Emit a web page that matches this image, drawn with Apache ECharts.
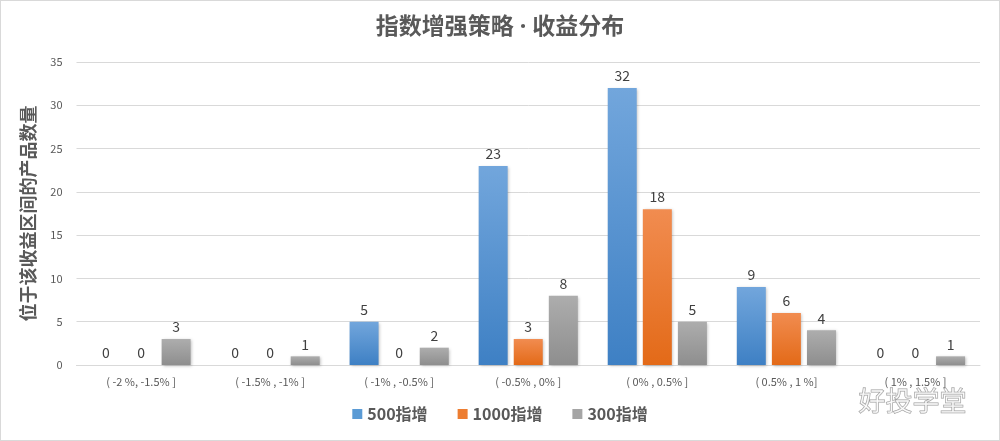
<!DOCTYPE html>
<html><head><meta charset="utf-8">
<script src="https://cdn.jsdelivr.net/npm/echarts@6/dist/echarts.min.js"></script>
<style>html,body{margin:0;padding:0;background:#fff}#c{width:998px;height:439px;border:1px solid #d9d9d9}</style>
</head><body><div id="c"></div>
<script>
const categories = ['( -2 %, -1.5% ]','( -1.5% , -1% ]','( -1% , -0.5% ]','( -0.5% , 0% ]','( 0% , 0.5% ]','( 0.5% , 1 %]','( 1% , 1.5% ]'];
const s500 = [0, 0, 5, 23, 32, 9, 0];
const s1000 = [0, 0, 0, 3, 18, 6, 0];
const s300 = [3, 1, 2, 8, 5, 4, 1];
const seriesNames = ['500指增', '1000指增', '300指增'];

const font = '"Noto Sans CJK SC", "Open Sans", sans-serif';
const titleFont = '"Open Sans", "Noto Sans CJK SC", sans-serif';
function grad(top, bottom){
  return new echarts.graphic.LinearGradient(0,0,0,1,[{offset:0,color:top},{offset:1,color:bottom}]);
}
const colors = [grad('#72a6dc','#3e80c4'), grad('#f18c50','#e36a18'), grad('#adadad','#8e8e8e')];
const legendColors = ['#5b9bd5','#ed7d31','#a5a5a5'];
const label = {show:true, position:'top', distance:5, color:'#404040', fontSize:14, fontFamily:font};
function mk(i, data){
  return {name:seriesNames[i], type:'bar', data:data, barWidth:29, barGap:'21%',
    itemStyle:{color:colors[i], shadowColor:'rgba(0,0,0,0.25)', shadowBlur:3, shadowOffsetX:1, shadowOffsetY:1},
    label:label};
}
const chart = echarts.init(document.getElementById('c'));
chart.setOption({
  animation:false,
  title:{text:'指数增强策略 · 收益分布', left:'center', top:10,
    textStyle:{color:'#595959', fontSize:23, fontWeight:'bold', fontFamily:titleFont}},
  legend:{bottom:13, left:'center', itemWidth:10, itemHeight:10, itemGap:30, icon:'rect',
    textStyle:{color:'#595959', fontSize:16, fontWeight:'bold', fontFamily:font},
    data:seriesNames.map((n,i)=>({name:n, itemStyle:{color:legendColors[i]}}))},
  grid:{left:75.5, right:19, top:61, bottom:75},
  xAxis:{type:'category', data:categories,
    axisLine:{lineStyle:{color:'#d9d9d9'}}, axisTick:{show:false},
    axisLabel:{color:'#595959', fontSize:11, margin:11, fontFamily:font}},
  yAxis:{type:'value', min:0, max:35, interval:5,
    name:'位于该收益区间的产品数量', nameLocation:'middle', nameGap:39, nameRotate:90,
    nameTextStyle:{color:'#595959', fontSize:18, fontWeight:'bold', fontFamily:font},
    axisLine:{show:false}, axisTick:{show:false},
    axisLabel:{color:'#595959', fontSize:11, margin:14, fontFamily:font},
    splitLine:{lineStyle:{color:'#d9d9d9'}}},
  graphic:[{type:'text', right:32, bottom:25, z:100,
    style:{text:'好投学堂', fontSize:27, fontFamily:font, fill:'rgba(255,255,255,0.6)', stroke:'#9a9a9a', lineWidth:1}}],
  series:[mk(0,s500), mk(1,s1000), mk(2,s300)]
});
</script></body></html>
